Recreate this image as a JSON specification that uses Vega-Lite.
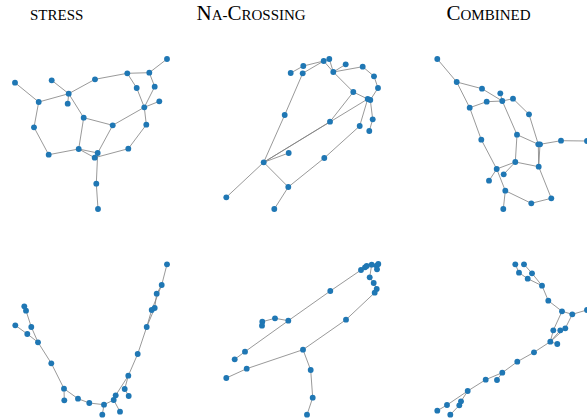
{
  "$schema": "https://vega.github.io/schema/vega-lite/v6.json",
  "width": 587,
  "height": 420,
  "autosize": {"type": "fit", "contains": "padding"},
  "padding": 0,
  "config": {"view": {"stroke": null}},
  "datasets": {
    "nodes": [
      {"id": "1a", "x": 15, "y": 82.7}, {"id": "1b", "x": 51.7, "y": 80.3}, {"id": "1c", "x": 95, "y": 79.3},
      {"id": "1d", "x": 127.3, "y": 73.3}, {"id": "1e", "x": 149.3, "y": 72.7}, {"id": "1f", "x": 167, "y": 59},
      {"id": "1g", "x": 68.7, "y": 93.7}, {"id": "1h", "x": 67.7, "y": 103.7}, {"id": "1i", "x": 38.7, "y": 102},
      {"id": "1j", "x": 136.7, "y": 88}, {"id": "1k", "x": 154.7, "y": 86.7}, {"id": "1l", "x": 159.3, "y": 101.3},
      {"id": "1m", "x": 144.3, "y": 107.3}, {"id": "1n", "x": 83.7, "y": 117.7}, {"id": "1o", "x": 112.7, "y": 125.3},
      {"id": "1p", "x": 34, "y": 127.3}, {"id": "1q", "x": 146.3, "y": 124.7}, {"id": "1r", "x": 78.7, "y": 149},
      {"id": "1s", "x": 48.7, "y": 154.7}, {"id": "1t", "x": 97.7, "y": 153}, {"id": "1u", "x": 94.7, "y": 157.7},
      {"id": "1v", "x": 128.3, "y": 148.7}, {"id": "1w", "x": 96.3, "y": 183.7}, {"id": "1x", "x": 98, "y": 209},

      {"id": "2A", "x": 290.7, "y": 73}, {"id": "2B", "x": 303.3, "y": 66}, {"id": "2C", "x": 302.7, "y": 73.3},
      {"id": "2D", "x": 323.7, "y": 61}, {"id": "2E", "x": 329.3, "y": 59}, {"id": "2F", "x": 345.7, "y": 64.3},
      {"id": "2G", "x": 362.7, "y": 66.7}, {"id": "2H", "x": 333.3, "y": 72}, {"id": "2I", "x": 374, "y": 76.3},
      {"id": "2J", "x": 378, "y": 88}, {"id": "2K", "x": 353.3, "y": 92}, {"id": "2L", "x": 367.7, "y": 99},
      {"id": "2L2", "x": 370.3, "y": 100}, {"id": "2M", "x": 284.7, "y": 115}, {"id": "2N", "x": 330, "y": 121.7},
      {"id": "2O", "x": 372.7, "y": 119.3}, {"id": "2P", "x": 359.7, "y": 126}, {"id": "2Q", "x": 369.3, "y": 131},
      {"id": "2R", "x": 288.7, "y": 153}, {"id": "2S", "x": 324.3, "y": 158}, {"id": "2T", "x": 263.7, "y": 162.3},
      {"id": "2U", "x": 288.3, "y": 187}, {"id": "2V", "x": 226.3, "y": 197.3}, {"id": "2W", "x": 274.3, "y": 209},

      {"id": "3a", "x": 437.3, "y": 59}, {"id": "3b", "x": 456.7, "y": 82}, {"id": "3c", "x": 482, "y": 88.7},
      {"id": "3d", "x": 500.3, "y": 93.3}, {"id": "3e", "x": 486.7, "y": 101.7}, {"id": "3f", "x": 502.3, "y": 101},
      {"id": "3g", "x": 513, "y": 98.7}, {"id": "3h", "x": 469.7, "y": 107.7}, {"id": "3i", "x": 529, "y": 114.3},
      {"id": "3j", "x": 481.3, "y": 139.7}, {"id": "3k", "x": 517, "y": 134.7}, {"id": "3l", "x": 538.3, "y": 144.3},
      {"id": "3l2", "x": 540, "y": 144.3}, {"id": "3m", "x": 561, "y": 140.7}, {"id": "3n", "x": 587, "y": 141},
      {"id": "3o", "x": 515.3, "y": 162}, {"id": "3p", "x": 538.7, "y": 166.7}, {"id": "3q", "x": 496.7, "y": 169},
      {"id": "3r", "x": 503.7, "y": 174.3}, {"id": "3s", "x": 489, "y": 180.7}, {"id": "3t", "x": 505.3, "y": 190.7},
      {"id": "3u", "x": 551.3, "y": 198.3}, {"id": "3v", "x": 531.3, "y": 203.3}, {"id": "3w", "x": 503.3, "y": 209},

      {"id": "4A", "x": 167, "y": 264.3}, {"id": "4B", "x": 161.7, "y": 285}, {"id": "4C", "x": 156.7, "y": 293.7},
      {"id": "4D", "x": 154.7, "y": 308}, {"id": "4D2", "x": 151.7, "y": 310}, {"id": "4E", "x": 146.7, "y": 327},
      {"id": "4F", "x": 137.7, "y": 354}, {"id": "4G", "x": 128.3, "y": 375.7}, {"id": "4H", "x": 124.7, "y": 389},
      {"id": "4I", "x": 128.7, "y": 396}, {"id": "4J", "x": 115.7, "y": 395.3}, {"id": "4K", "x": 113.7, "y": 400},
      {"id": "4L", "x": 120, "y": 411.7}, {"id": "4M", "x": 104, "y": 404.7}, {"id": "4N", "x": 102.3, "y": 414.7},
      {"id": "4O", "x": 89.3, "y": 403}, {"id": "4P", "x": 78, "y": 398.7}, {"id": "4Q", "x": 64, "y": 388.7},
      {"id": "4R", "x": 64.3, "y": 400.3}, {"id": "4S", "x": 51.3, "y": 363.3}, {"id": "4T", "x": 38, "y": 342.3},
      {"id": "4U", "x": 27.3, "y": 334}, {"id": "4V", "x": 15.3, "y": 325.3}, {"id": "4W", "x": 31.3, "y": 327},
      {"id": "4X", "x": 26, "y": 310.7}, {"id": "4Y", "x": 24.3, "y": 306.3},

      {"id": "5a", "x": 361, "y": 270}, {"id": "5b", "x": 365, "y": 267.3}, {"id": "5c", "x": 366.7, "y": 266},
      {"id": "5d", "x": 371.7, "y": 264.7}, {"id": "5e", "x": 376.7, "y": 265.7}, {"id": "5f", "x": 378.3, "y": 264},
      {"id": "5g", "x": 377, "y": 269.3}, {"id": "5h", "x": 369.7, "y": 277.3}, {"id": "5i", "x": 373.7, "y": 283},
      {"id": "5j", "x": 376.7, "y": 289}, {"id": "5k", "x": 374.7, "y": 292.7}, {"id": "5l", "x": 330.3, "y": 291},
      {"id": "5m", "x": 288.3, "y": 320.7}, {"id": "5n", "x": 275, "y": 318.3}, {"id": "5o", "x": 262.3, "y": 321.7},
      {"id": "5p", "x": 262, "y": 325.7}, {"id": "5q", "x": 346, "y": 319.7}, {"id": "5r", "x": 245, "y": 351.7},
      {"id": "5s", "x": 234.7, "y": 359.3}, {"id": "5t", "x": 303, "y": 349.7}, {"id": "5u", "x": 246.7, "y": 368.7},
      {"id": "5v", "x": 226.3, "y": 378}, {"id": "5w", "x": 310.7, "y": 370}, {"id": "5x", "x": 312.7, "y": 397.7},
      {"id": "5y", "x": 307, "y": 414.7},

      {"id": "6a", "x": 515.3, "y": 264.3}, {"id": "6b", "x": 524, "y": 264.3}, {"id": "6c", "x": 519, "y": 272.7},
      {"id": "6d", "x": 532, "y": 273.3}, {"id": "6e", "x": 527.7, "y": 278.7}, {"id": "6f", "x": 542, "y": 285.7},
      {"id": "6g", "x": 548.3, "y": 300.7}, {"id": "6h", "x": 562, "y": 311.3}, {"id": "6i", "x": 572.3, "y": 314.3},
      {"id": "6j", "x": 587, "y": 310}, {"id": "6k", "x": 553.3, "y": 330.3}, {"id": "6l", "x": 560.3, "y": 330.3},
      {"id": "6m", "x": 565.3, "y": 328.3}, {"id": "6n", "x": 550.3, "y": 341.7}, {"id": "6o", "x": 557.3, "y": 344},
      {"id": "6p", "x": 534, "y": 352.3}, {"id": "6q", "x": 517.3, "y": 361.7}, {"id": "6r", "x": 502.3, "y": 372.7},
      {"id": "6s", "x": 497, "y": 380}, {"id": "6t", "x": 485.7, "y": 379.7}, {"id": "6u", "x": 467.7, "y": 391},
      {"id": "6v", "x": 461, "y": 401.3}, {"id": "6w", "x": 459.3, "y": 405.3}, {"id": "6x", "x": 447, "y": 405},
      {"id": "6y", "x": 437.3, "y": 410.7}, {"id": "6z", "x": 450.3, "y": 414.7}
    ],
    "edges": [
      {"s": "1a", "t": "1i"}, {"s": "1i", "t": "1g"}, {"s": "1b", "t": "1g"}, {"s": "1g", "t": "1h"},
      {"s": "1g", "t": "1c"}, {"s": "1c", "t": "1d"}, {"s": "1d", "t": "1e"}, {"s": "1e", "t": "1f"},
      {"s": "1d", "t": "1j"}, {"s": "1e", "t": "1k"}, {"s": "1j", "t": "1m"}, {"s": "1k", "t": "1m"},
      {"s": "1l", "t": "1m"}, {"s": "1m", "t": "1q"}, {"s": "1m", "t": "1o"}, {"s": "1g", "t": "1n"},
      {"s": "1n", "t": "1o"}, {"s": "1n", "t": "1r"}, {"s": "1i", "t": "1p"}, {"s": "1p", "t": "1s"},
      {"s": "1s", "t": "1r"}, {"s": "1r", "t": "1t"}, {"s": "1r", "t": "1u"}, {"s": "1o", "t": "1t"},
      {"s": "1u", "t": "1v"}, {"s": "1q", "t": "1v"}, {"s": "1t", "t": "1w"}, {"s": "1w", "t": "1x"},

      {"s": "2A", "t": "2B"}, {"s": "2B", "t": "2D"}, {"s": "2C", "t": "2D"}, {"s": "2C", "t": "2M"},
      {"s": "2M", "t": "2T"}, {"s": "2D", "t": "2E"}, {"s": "2D", "t": "2H"}, {"s": "2E", "t": "2H"},
      {"s": "2H", "t": "2F"}, {"s": "2H", "t": "2G"}, {"s": "2G", "t": "2I"}, {"s": "2I", "t": "2J"},
      {"s": "2J", "t": "2L2"}, {"s": "2H", "t": "2K"}, {"s": "2K", "t": "2L"}, {"s": "2K", "t": "2N"},
      {"s": "2N", "t": "2T"}, {"s": "2L", "t": "2T"}, {"s": "2T", "t": "2R"}, {"s": "2T", "t": "2V"},
      {"s": "2T", "t": "2U"}, {"s": "2U", "t": "2W"}, {"s": "2U", "t": "2S"}, {"s": "2S", "t": "2P"},
      {"s": "2P", "t": "2L"}, {"s": "2O", "t": "2L2"}, {"s": "2O", "t": "2Q"},

      {"s": "3a", "t": "3b"}, {"s": "3b", "t": "3c"}, {"s": "3c", "t": "3f"}, {"s": "3b", "t": "3h"},
      {"s": "3h", "t": "3e"}, {"s": "3e", "t": "3f"}, {"s": "3d", "t": "3f"}, {"s": "3f", "t": "3g"},
      {"s": "3g", "t": "3i"}, {"s": "3i", "t": "3l"}, {"s": "3f", "t": "3k"}, {"s": "3k", "t": "3l"},
      {"s": "3k", "t": "3o"}, {"s": "3l2", "t": "3m"}, {"s": "3m", "t": "3n"}, {"s": "3l", "t": "3p"},
      {"s": "3l2", "t": "3p"}, {"s": "3o", "t": "3p"}, {"s": "3h", "t": "3j"}, {"s": "3j", "t": "3q"},
      {"s": "3q", "t": "3o"}, {"s": "3q", "t": "3s"}, {"s": "3r", "t": "3o"}, {"s": "3q", "t": "3t"},
      {"s": "3t", "t": "3v"}, {"s": "3v", "t": "3u"}, {"s": "3u", "t": "3p"}, {"s": "3t", "t": "3w"},

      {"s": "4A", "t": "4B"}, {"s": "4B", "t": "4C"}, {"s": "4C", "t": "4D"}, {"s": "4B", "t": "4D2"},
      {"s": "4D", "t": "4E"}, {"s": "4D2", "t": "4E"}, {"s": "4E", "t": "4F"}, {"s": "4F", "t": "4G"},
      {"s": "4G", "t": "4J"}, {"s": "4G", "t": "4H"}, {"s": "4H", "t": "4I"}, {"s": "4J", "t": "4K"},
      {"s": "4K", "t": "4M"}, {"s": "4K", "t": "4L"}, {"s": "4M", "t": "4N"}, {"s": "4M", "t": "4O"},
      {"s": "4O", "t": "4P"}, {"s": "4P", "t": "4Q"}, {"s": "4Q", "t": "4R"}, {"s": "4Q", "t": "4S"},
      {"s": "4S", "t": "4T"}, {"s": "4T", "t": "4U"}, {"s": "4U", "t": "4V"}, {"s": "4T", "t": "4W"},
      {"s": "4W", "t": "4X"}, {"s": "4X", "t": "4Y"},

      {"s": "5a", "t": "5b"}, {"s": "5b", "t": "5c"}, {"s": "5c", "t": "5d"}, {"s": "5d", "t": "5e"},
      {"s": "5e", "t": "5f"}, {"s": "5f", "t": "5g"}, {"s": "5d", "t": "5h"}, {"s": "5a", "t": "5l"},
      {"s": "5l", "t": "5m"}, {"s": "5m", "t": "5n"}, {"s": "5n", "t": "5o"}, {"s": "5o", "t": "5p"},
      {"s": "5m", "t": "5r"}, {"s": "5r", "t": "5s"}, {"s": "5h", "t": "5i"}, {"s": "5i", "t": "5j"},
      {"s": "5j", "t": "5k"}, {"s": "5k", "t": "5q"}, {"s": "5q", "t": "5t"}, {"s": "5t", "t": "5u"},
      {"s": "5u", "t": "5v"}, {"s": "5t", "t": "5w"}, {"s": "5w", "t": "5x"}, {"s": "5x", "t": "5y"},

      {"s": "6a", "t": "6c"}, {"s": "6c", "t": "6e"}, {"s": "6b", "t": "6d"}, {"s": "6d", "t": "6f"},
      {"s": "6e", "t": "6f"}, {"s": "6f", "t": "6g"}, {"s": "6g", "t": "6h"}, {"s": "6h", "t": "6i"},
      {"s": "6i", "t": "6j"}, {"s": "6h", "t": "6k"}, {"s": "6k", "t": "6n"}, {"s": "6i", "t": "6m"},
      {"s": "6m", "t": "6n"}, {"s": "6l", "t": "6n"}, {"s": "6n", "t": "6o"}, {"s": "6n", "t": "6p"},
      {"s": "6p", "t": "6q"}, {"s": "6q", "t": "6r"}, {"s": "6r", "t": "6s"}, {"s": "6r", "t": "6t"},
      {"s": "6t", "t": "6u"}, {"s": "6u", "t": "6x"}, {"s": "6x", "t": "6y"}, {"s": "6u", "t": "6v"},
      {"s": "6v", "t": "6w"}, {"s": "6w", "t": "6z"}
    ],
    "titles": [
      {"text": "STRESS", "case": "small", "x": 30, "y": 19.5},
      {"text": "N", "case": "large", "x": 196.5, "y": 19.5},
      {"text": "A-", "case": "small", "x": 211.7, "y": 19.5},
      {"text": "C", "case": "large", "x": 227.5, "y": 19.5},
      {"text": "ROSSING", "case": "small", "x": 241.5, "y": 19.5},
      {"text": "C", "case": "large", "x": 446.5, "y": 19.5},
      {"text": "OMBINED", "case": "small", "x": 460.5, "y": 19.5}
    ]
  },
  "layer": [
    {
      "data": {"name": "edges"},
      "transform": [
        {"lookup": "s", "from": {"data": {"name": "nodes"}, "key": "id", "fields": ["x", "y"]}, "as": ["sx", "sy"]},
        {"lookup": "t", "from": {"data": {"name": "nodes"}, "key": "id", "fields": ["x", "y"]}, "as": ["tx", "ty"]}
      ],
      "mark": {"type": "rule", "color": "#7f7f7f", "strokeWidth": 0.8, "clip": true},
      "encoding": {
        "x": {"field": "sx", "type": "quantitative", "scale": {"domain": [0, 587], "nice": false, "zero": false}, "axis": null},
        "y": {"field": "sy", "type": "quantitative", "scale": {"domain": [0, 420], "nice": false, "zero": false, "reverse": true}, "axis": null},
        "x2": {"field": "tx"},
        "y2": {"field": "ty"}
      }
    },
    {
      "data": {"name": "nodes"},
      "mark": {"type": "circle", "color": "#1f77b4", "opacity": 1, "size": 34, "clip": true},
      "encoding": {
        "x": {"field": "x", "type": "quantitative"},
        "y": {"field": "y", "type": "quantitative"}
      }
    },
    {
      "data": {"name": "titles"},
      "transform": [{"filter": "datum.case === 'large'"}],
      "mark": {"type": "text", "font": "Liberation Serif", "fontSize": 21, "align": "left", "baseline": "alphabetic", "color": "#000000"},
      "encoding": {
        "x": {"field": "x", "type": "quantitative"},
        "y": {"field": "y", "type": "quantitative"},
        "text": {"field": "text"}
      }
    },
    {
      "data": {"name": "titles"},
      "transform": [{"filter": "datum.case === 'small'"}],
      "mark": {"type": "text", "font": "Liberation Serif", "fontSize": 15, "align": "left", "baseline": "alphabetic", "color": "#000000"},
      "encoding": {
        "x": {"field": "x", "type": "quantitative"},
        "y": {"field": "y", "type": "quantitative"},
        "text": {"field": "text"}
      }
    }
  ]
}
